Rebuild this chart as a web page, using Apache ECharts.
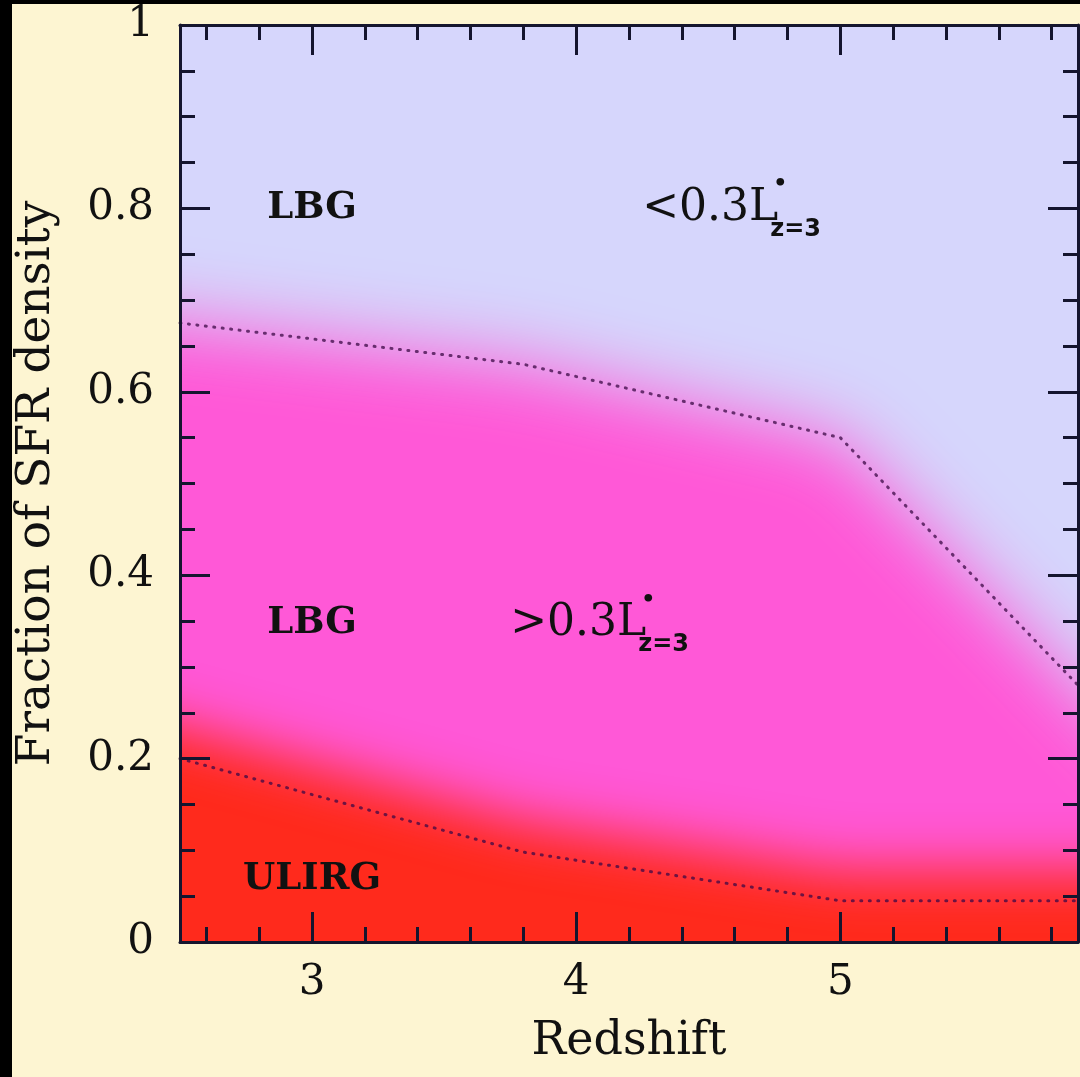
<!DOCTYPE html>
<html>
<head>
<meta charset="utf-8">
<script src="https://cdn.jsdelivr.net/npm/echarts@6.0.0/dist/echarts.min.js"></script>
<style>
  html, body { margin: 0; padding: 0; width: 1080px; height: 1077px; overflow: hidden; background: #000; }
  #chart { position: absolute; left: 12px; top: 4px; width: 1068px; height: 1073px; }
</style>
</head>
<body>
<div id="chart"></div>
<script>
// ---- axis ranges and ticks ----
const xMin = 2.5, xMax = 5.9;
const yMin = 0, yMax = 1;
const xMajorTicks = [3, 4, 5];
const xMinorTicks = [2.6, 2.8, 3.0, 3.2, 3.4, 3.6, 3.8, 4.0, 4.2, 4.4, 4.6, 4.8, 5.0, 5.2, 5.4, 5.6, 5.8];
const yMajorTicks = [0, 0.2, 0.4, 0.6, 0.8, 1];
const yMinorTicks = [0, 0.05, 0.1, 0.15, 0.2, 0.25, 0.3, 0.35, 0.4, 0.45, 0.5,
                     0.55, 0.6, 0.65, 0.7, 0.75, 0.8, 0.85, 0.9, 0.95, 1];

// ---- cumulative fractions of the SFR density vs redshift ----
// top of the bright-LBG (>0.3 L*) band; faint LBGs fill the rest up to 1
const brightLbgTop = [[2.5, 0.675], [3.8, 0.63], [5.0, 0.55], [5.9, 0.28]];
// top of the ULIRG band
const ulirgTop = [[2.5, 0.2], [3.8, 0.098], [5.0, 0.045], [5.9, 0.045]];

// ---- region labels (anchored in data coordinates) ----
const regionLabels = [
  { text: 'LBG',   z: 3.0,  f: 0.8 },
  { text: '<0.3L', z: 4.25, f: 0.8,   star: true },
  { text: 'LBG',   z: 3.0,  f: 0.347 },
  { text: '>0.3L', z: 3.75, f: 0.347, star: true },
  { text: 'ULIRG', z: 3.0,  f: 0.068 }
];

// ---- styling ----
const CREAM = '#fdf5d2';
const LAVENDER = '#d6d6fc';
const PINK = '#ff58d7';
const RED = '#ff2a1c';
const INK = '#111111';
const AXIS = '#15152e';
const SERIF = '"DejaVu Serif", "Liberation Serif", serif';
const SANS = '"DejaVu Sans", "Liberation Sans", sans-serif';

const measureCtx = document.createElement('canvas').getContext('2d');
function textWidth(str, font) { measureCtx.font = font; return measureCtx.measureText(str).width; }

// Soft-edged band: the polygon is drawn off to the side and only its blurred
// shadow lands on the plot, clipped to the plotting area.
const SHIFT = 4000, EXT = 400;
function softRegion(boundary, color, blur, offY) {
  return function (params, api) {
    if (params.dataIndex !== 0) return null;
    const cs = params.coordSys;
    const pts = boundary.map(p => api.coord(p));
    const extend = (a, b) => {
      const dx = a[0] - b[0], dy = a[1] - b[1];
      const len = Math.hypot(dx, dy) || 1;
      return [a[0] + dx / len * EXT, a[1] + dy / len * EXT];
    };
    const first = extend(pts[0], pts[1]);
    const last = extend(pts[pts.length - 1], pts[pts.length - 2]);
    const floor = cs.y + cs.height + EXT;
    const poly = [[first[0], floor], first].concat(pts, [last, [last[0], floor]])
      .map(p => [p[0] - SHIFT, p[1]]);
    return {
      type: 'group',
      clipPath: { type: 'rect', shape: { x: cs.x, y: cs.y, width: cs.width, height: cs.height } },
      children: [{
        type: 'polygon',
        shape: { points: poly },
        style: { fill: color, shadowColor: color, shadowBlur: blur, shadowOffsetX: SHIFT, shadowOffsetY: offY }
      }]
    };
  };
}

function renderLabel(params, api) {
  const l = regionLabels[params.dataIndex];
  const pt = api.coord([api.value(0), api.value(1)]);
  if (!l.star) {
    return {
      type: 'text', x: pt[0], y: pt[1],
      style: { text: l.text, fill: INK, fontFamily: SERIF, fontWeight: 'bold', fontSize: 37,
               align: 'center', verticalAlign: 'middle' }
    };
  }
  const mainFont = 'normal 44px ' + SERIF;
  const w = textWidth(l.text, mainFont);
  return {
    type: 'group',
    children: [
      { type: 'text', x: pt[0], y: pt[1],
        style: { text: l.text, fill: INK, fontFamily: SERIF, fontSize: 44, align: 'left', verticalAlign: 'middle' } },
      { type: 'text', x: pt[0] + w + 2, y: pt[1] - 24,
        style: { text: '•', fill: INK, fontFamily: SANS, fontWeight: 'bold', fontSize: 22, align: 'center', verticalAlign: 'middle' } },
      { type: 'text', x: pt[0] + w - 8, y: pt[1] + 21,
        style: { text: 'z=3', fill: INK, fontFamily: SANS, fontWeight: 'bold', fontSize: 24, align: 'left', verticalAlign: 'middle' } }
    ]
  };
}

const tickLine = { color: AXIS, width: 3 };
function xAxisDef(position, ticks, len, withLabels, withLine) {
  return {
    type: 'value', position, min: xMin, max: xMax, z: 10,
    axisLine: { show: withLine, onZero: false, lineStyle: { color: AXIS, width: 3 } },
    axisTick: { show: true, inside: true, length: len, customValues: ticks, lineStyle: tickLine },
    axisLabel: withLabels
      ? { show: true, customValues: ticks, margin: 20, color: INK, fontFamily: SERIF, fontSize: 42 }
      : { show: false },
    splitLine: { show: false },
    name: withLabels ? 'Redshift' : '',
    nameLocation: 'middle', nameGap: 77,
    nameTextStyle: { color: INK, fontFamily: SERIF, fontSize: 46 }
  };
}
function yAxisDef(position, ticks, len, withLabels, withLine) {
  return {
    type: 'value', position, min: yMin, max: yMax, z: 10,
    axisLine: { show: withLine, onZero: false, lineStyle: { color: AXIS, width: 3 } },
    axisTick: { show: true, inside: true, length: len, customValues: ticks, lineStyle: tickLine },
    axisLabel: withLabels
      ? { show: true, customValues: ticks, margin: 26, color: INK, fontFamily: SERIF, fontSize: 42 }
      : { show: false },
    splitLine: { show: false },
    name: withLabels ? 'Fraction of SFR density' : '',
    nameLocation: 'middle', nameGap: 120, nameRotate: 90,
    nameTextStyle: { color: INK, fontFamily: SERIF, fontSize: 47 }
  };
}

const chart = echarts.init(document.getElementById('chart'), null, { renderer: 'canvas' });
chart.setOption({
  animation: false,
  backgroundColor: CREAM,
  grid: {
    left: 168, top: 21, right: 2, bottom: 135,
    show: true, backgroundColor: LAVENDER, borderWidth: 0,
    outerBoundsMode: 'none'
  },
  xAxis: [
    xAxisDef('bottom', xMajorTicks, 30, true, true),
    xAxisDef('bottom', xMinorTicks, 15, false, false),
    xAxisDef('top', xMajorTicks, 30, false, true),
    xAxisDef('top', xMinorTicks, 15, false, false)
  ],
  yAxis: [
    yAxisDef('left', yMajorTicks, 30, true, true),
    yAxisDef('left', yMinorTicks, 15, false, false),
    yAxisDef('right', yMajorTicks, 30, false, true),
    yAxisDef('right', yMinorTicks, 15, false, false)
  ],
  series: [
    { type: 'custom', name: 'LBG >0.3L*', silent: true, z: 2,
      data: brightLbgTop, renderItem: softRegion(brightLbgTop, PINK, 72, 0) },
    { type: 'custom', name: 'ULIRG', silent: true, z: 3,
      data: ulirgTop, renderItem: softRegion(ulirgTop, RED, 56, -30) },
    { type: 'line', name: 'LBG boundary', silent: true, z: 4, data: brightLbgTop,
      symbol: 'none', lineStyle: { color: 'rgba(60,10,70,0.75)', width: 3, type: [1, 7.5], cap: 'round' } },
    { type: 'line', name: 'ULIRG boundary', silent: true, z: 4, data: ulirgTop,
      symbol: 'none', lineStyle: { color: 'rgba(60,10,70,0.75)', width: 3, type: [1, 7.5], cap: 'round' } },
    { type: 'custom', name: 'labels', silent: true, z: 6,
      data: regionLabels.map(l => [l.z, l.f]), renderItem: renderLabel }
  ]
});
</script>
</body>
</html>
